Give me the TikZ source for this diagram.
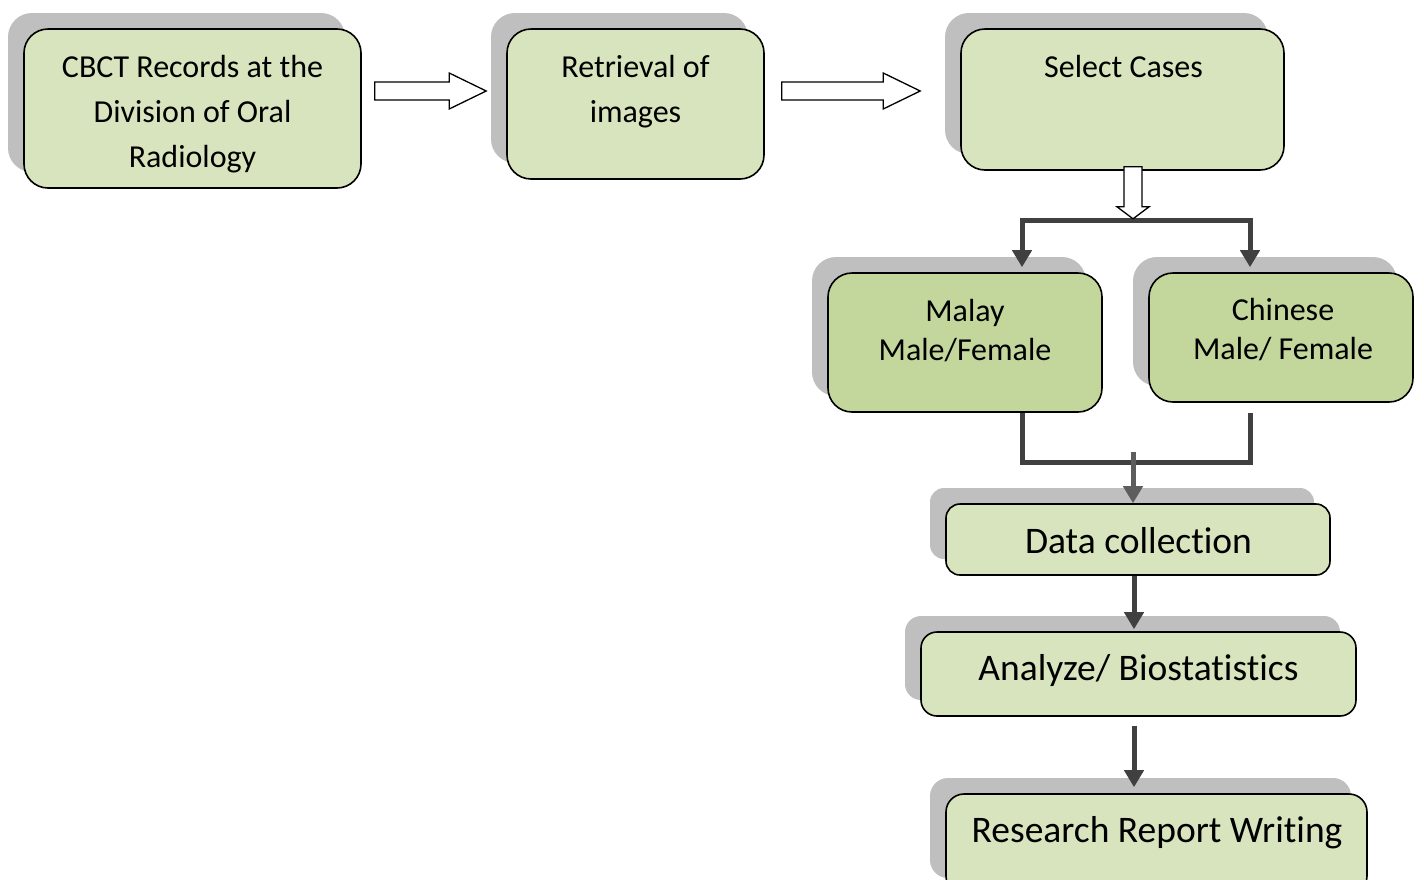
\documentclass[tikz,border=0pt]{standalone}
\usepackage{fontspec}
\setmainfont[Ligatures=NoCommon]{Carlito}
\usetikzlibrary{calc,shadows,arrows.meta}
\definecolor{boxgreen}{HTML}{D7E4BD}
\definecolor{boxgreendark}{HTML}{C3D69B}
\definecolor{shadowgray}{HTML}{BFBFBF}
\definecolor{conncol}{HTML}{404040}
\tikzset{
  stepbox/.style={draw=black, line width=1.6pt, fill=boxgreen, rounded corners=24pt,
    general shadow={fill=shadowgray, shadow xshift=-16pt, shadow yshift=16pt},
    inner sep=0pt},
  darkbox/.style={stepbox, fill=boxgreendark},
  lbl/.style={align=center, inner sep=0pt, font=\fontsize{32}{45}\selectfont},
  lblsmall/.style={align=center, inner sep=0pt, font=\fontsize{32}{39}\selectfont},
  lblbig/.style={align=center, inner sep=0pt, font=\fontsize{37.5}{44}\selectfont},
  conn/.style={draw=conncol, line width=5pt},
  connarrow/.style={conn, -{Triangle[width=19pt,length=17pt]}},
  blockarrow/.style={draw=black, line width=1.3pt, fill=white, line join=miter}
}
\begin{document}
\begin{tikzpicture}[x=1pt,y=-1pt]
\clip (0,0) rectangle (1424,879);
\fill[white] (0,0) rectangle (1424,879);
% boxes
\node[stepbox, minimum width=337pt, minimum height=159pt] (b1) at (192.5,108.5) {};
\node[stepbox, minimum width=257pt, minimum height=150pt] (b2) at (635.5,104) {};
\node[stepbox, minimum width=323pt, minimum height=141pt] (b3) at (1122.5,99.5) {};
\node[darkbox, minimum width=274pt, minimum height=139pt] (b4) at (965,342.5) {};
\node[darkbox, minimum width=264pt, minimum height=129pt] (b5) at (1281,337.5) {};
\node[stepbox, rounded corners=14pt, minimum width=384pt, minimum height=71pt] (b6) at (1138,539.5) {};
\node[stepbox, rounded corners=16pt, minimum width=435pt, minimum height=84pt] (b7) at (1138.5,674) {};
\node[stepbox, rounded corners=18pt, minimum width=421pt, minimum height=100pt] (b8) at (1156.5,844) {};
% labels
\node[lbl] (t1) at (192.5,114) {CBCT Records at the\\Division of Oral\\Radiology};
\node[lbl] (t2) at (635.5,91.5) {Retrieval of\\images};
\node[lbl] (t3) at (1123.5,67) {Select Cases};
\node[lblsmall] (t4) at (965,331) {Malay\\Male/Female};
\node[lblsmall] (t5) at (1283,330) {Chinese\\Male/ Female};
\node[lblbig] (t6) at (1138.5,541) {Data collection};
\node[lblbig] (t7) at (1138.5,670) {Analyze/ Biostatistics};
\node[lblbig] (t8) at (1157,833) {Research Report Writing};
% block arrows
\coordinate (a1s) at ($(b1.east)+(13,-17.5)$);
\coordinate (a1e) at ($(b2.west)+(-20,-13)$);
\draw[blockarrow] ($(a1s)+(0,-9)$) -- ($(a1e)+(-37,-9)$) -- ($(a1e)+(-37,-18)$) -- (a1e)
  -- ($(a1e)+(-37,18)$) -- ($(a1e)+(-37,9)$) -- ($(a1s)+(0,9)$) -- cycle;
\coordinate (a2s) at ($(b2.east)+(17,-13)$);
\coordinate (a2e) at ($(b3.west)+(-40,-8.5)$);
\draw[blockarrow] ($(a2s)+(0,-9)$) -- ($(a2e)+(-37,-9)$) -- ($(a2e)+(-37,-18)$) -- (a2e)
  -- ($(a2e)+(-37,18)$) -- ($(a2e)+(-37,9)$) -- ($(a2s)+(0,9)$) -- cycle;
% split
\coordinate (sL) at (1022,220);
\coordinate (sR) at (1250,220);
\draw[connarrow, shorten >=5pt] (sL) -- (sL |- b4.north);
\draw[connarrow, shorten >=5pt] (sR) -- (sR |- b5.north);
\draw[conn, line cap=rect] (sL) -- (sR);
\coordinate (d1s) at ($(b3.south)+(10.5,-4)$);
\coordinate (d1e) at ($(b3.south)+(10.5,48)$);
\draw[blockarrow] ($(d1s)+(-9,0)$) -- ($(d1e)+(-9,-12)$) -- ($(d1e)+(-16,-12)$) -- (d1e)
  -- ($(d1e)+(16,-12)$) -- ($(d1e)+(9,-12)$) -- ($(d1s)+(9,0)$) -- cycle;
% merge
\coordinate (mL) at (1022,462);
\coordinate (mR) at (1250,462);
\draw[conn] (b4.south -| mL) -- (mL) -- (mR) -- ($(b5.south -| mR)+(0,10)$);
\coordinate (mC) at (1133,452);
\draw[connarrow, draw=conncol!85!white] (mC) -- (mC |- b6.north);
% vertical chain
\coordinate (cx) at (1134,0);
\draw[connarrow, shorten >=2pt] (b6.south -| cx) -- (b7.north -| cx);
\draw[connarrow, shorten >=6pt] ($(b7.south -| cx)+(0,9)$) -- (b8.north -| cx);
\end{tikzpicture}
\end{document}
